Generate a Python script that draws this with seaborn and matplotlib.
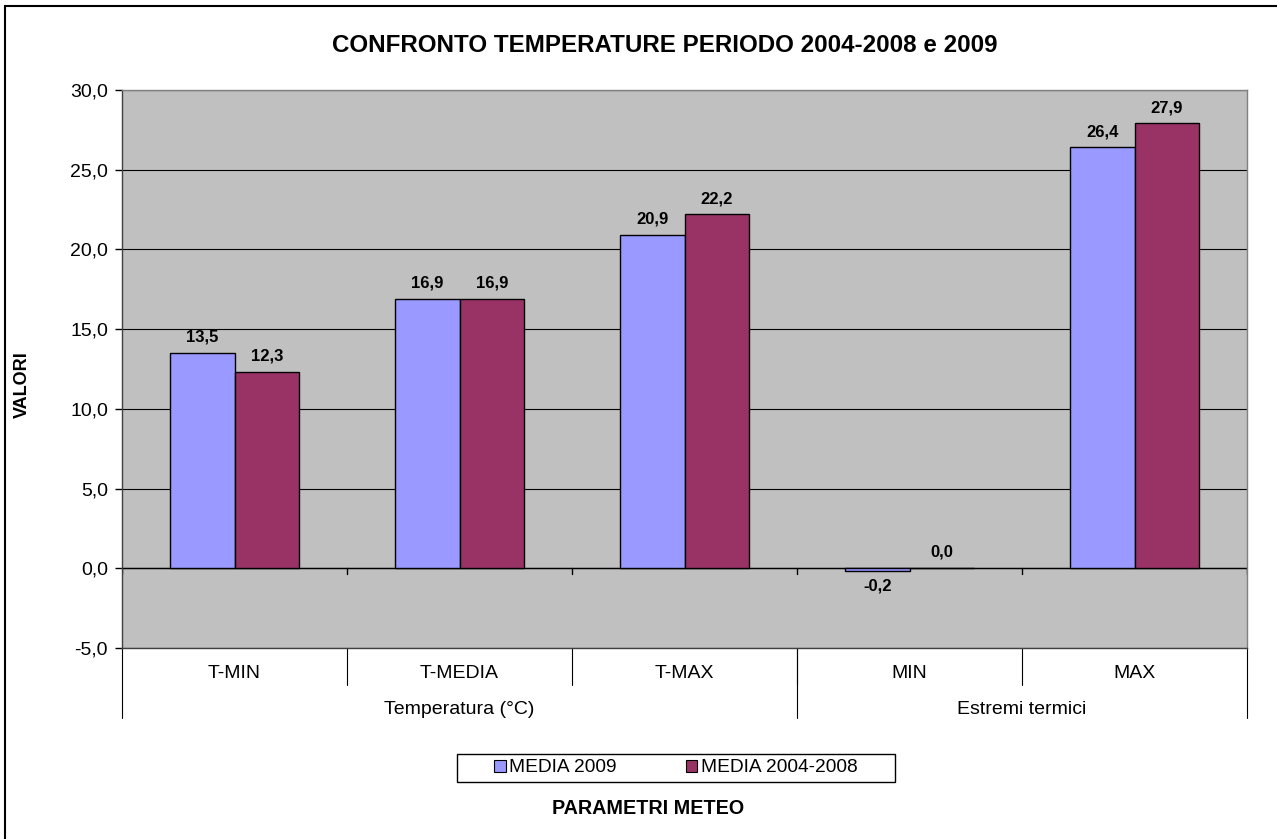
import matplotlib
matplotlib.use("Agg")
import matplotlib.pyplot as plt
import matplotlib.transforms as mtransforms
from matplotlib.patches import Rectangle
import seaborn as sns
import pandas as pd

categories = ["T-MIN", "T-MEDIA", "T-MAX", "MIN", "MAX"]
groups = ["Temperatura (°C)", "Estremi termici"]
group_spans = [(0, 3), (3, 5)]
series_names = ["MEDIA 2009", "MEDIA 2004-2008"]
media_2009 = [13.5, 16.9, 20.9, -0.2, 26.4]
media_2004_2008 = [12.3, 16.9, 22.2, 0.0, 27.9]
yticks = [-5, 0, 5, 10, 15, 20, 25, 30]

df = pd.DataFrame({
    "cat": categories * 2,
    "serie": [series_names[0]] * 5 + [series_names[1]] * 5,
    "val": media_2009 + media_2004_2008,
})

sns.set_theme(style="white")
plt.rcParams["font.family"] = ["Liberation Sans", "DejaVu Sans"]
plt.rcParams["text.color"] = "black"
plt.rcParams["axes.labelcolor"] = "black"
plt.rcParams["ytick.color"] = "black"
plt.rcParams["xtick.color"] = "black"

fig = plt.figure(figsize=(12.77, 8.39), dpi=100)
ax = fig.add_axes([122/1277, 1-648/839, 1125/1277, 558/839])
ax.set_facecolor("#C0C0C0")

palette = {series_names[0]: "#9999FF", series_names[1]: "#993366"}
sns.barplot(data=df, x="cat", y="val", hue="serie", order=categories,
            hue_order=series_names, palette=palette, width=0.574,
            edgecolor="black", linewidth=1, saturation=1, ax=ax,
            legend=False, zorder=3)

ax.set_xlim(-0.5, 4.5)
ax.set_ylim(-5, 30)
ax.set_yticks(yticks)
ax.set_yticklabels([f"{v:.1f}".replace(".", ",") for v in yticks], fontsize=14)
ax.yaxis.grid(True, color="black", linewidth=0.8, zorder=0)
ax.set_axisbelow(True)
ax.tick_params(axis="y", left=True, length=5, width=1, color="black", pad=5)
ax.set_xticks([])
ax.set_xlabel("")
ax.set_ylabel("")
for s in ax.spines.values():
    s.set_color("#808080")
    s.set_linewidth(1)
ax.spines["left"].set_color("#404040")
ax.spines["bottom"].set_color("#404040")

# zero axis line with category ticks
ax.axhline(0, color="black", linewidth=1, zorder=2)
for k in range(len(categories) + 1):
    ax.plot([k - 0.5, k - 0.5], [0, -0.35], color="black", linewidth=1, zorder=2)

# data labels
for i, cat in enumerate(categories):
    for j, vals in enumerate([media_2009, media_2004_2008]):
        v = vals[i]
        x = i + (j - 0.5) * 0.287
        lab = f"{v:.1f}".replace(".", ",")
        if v < 0:
            ax.annotate(lab, (x, v), xytext=(0, -5), textcoords="offset points",
                        ha="center", va="top", fontsize=12, fontweight="bold")
        else:
            ax.annotate(lab, (x, v), xytext=(0, 6), textcoords="offset points",
                        ha="center", va="bottom", fontsize=12, fontweight="bold")

# category axis labels below
trans = mtransforms.blended_transform_factory(ax.transData, fig.transFigure)
for i, cat in enumerate(categories):
    ax.text(i, 1-674/839, cat, transform=trans, ha="center", va="center", fontsize=14)
for k in range(1, len(categories)):
    ax.plot([k - 0.5, k - 0.5], [1-648/839, 1-685/839], transform=trans,
            color="black", linewidth=0.8, clip_on=False)
bounds = sorted(set([a for a, b in group_spans] + [b for a, b in group_spans]))
for b in bounds:
    ax.plot([b - 0.5, b - 0.5], [1-648/839, 1-718/839], transform=trans,
            color="black", linewidth=0.8, clip_on=False)
for g, (a, b) in zip(groups, group_spans):
    ax.text((a + b - 1) / 2, 1-709/839, g, transform=trans, ha="center",
            va="center", fontsize=14)

fig.text(665/1277, 1-46/839, "CONFRONTO TEMPERATURE PERIODO 2004-2008 e 2009",
         ha="center", va="center", fontsize=17.4, fontweight="bold")
fig.text(648/1277, 1-808/839, "PARAMETRI METEO", ha="center", va="center",
         fontsize=14.2, fontweight="bold")
fig.text(22/1277, 1-385/839, "VALORI", ha="center", va="center", rotation=90,
         fontsize=13, fontweight="bold")

handles = [Rectangle((0, 0), 1, 1, facecolor=palette[n], edgecolor="black", linewidth=0.8)
           for n in series_names]
leg = fig.legend(handles, series_names, loc="center", bbox_to_anchor=(676/1277, 1-768/839),
                 ncol=2, frameon=False, fontsize=13.8, handlelength=0.6, handleheight=0.6,
                 handletextpad=0.2, columnspacing=3.6, borderpad=0.2)
fig.patches.append(Rectangle((457/1277, 1-782/839), 438/1277, 28/839,
                             transform=fig.transFigure, fill=False,
                             edgecolor="black", linewidth=1))

fig.patches.append(Rectangle((5/1277, -10/839), 1300/1277, 843/839, transform=fig.transFigure,
                             fill=False, edgecolor="black", linewidth=1.5))

fig.savefig("out.png", dpi=100, facecolor="white")
